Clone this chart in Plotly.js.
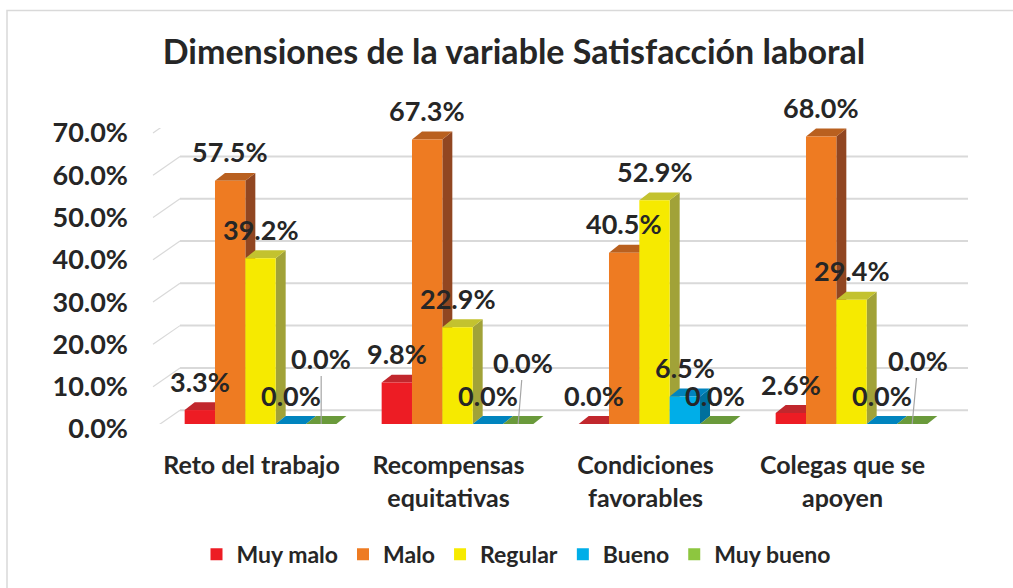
<!DOCTYPE html>
<html>
<head>
<meta charset="utf-8">
<script src="https://cdn.plot.ly/plotly-3.0.1.min.js"></script>
<style>
  html, body { margin: 0; padding: 0; background: #ffffff; }
  #chart { width: 1013px; height: 588px; }
</style>
</head>
<body>
<div id="chart"></div>
<script>
// ---------- DATA ----------
const categories = ["Reto del trabajo", "Recompensas<br>equitativas", "Condiciones<br>favorables", "Colegas que se<br>apoyen"];
const seriesNames = ["Muy malo", "Malo", "Regular", "Bueno", "Muy bueno"];
const muyMalo  = [3.3, 9.8, 0.0, 2.6];
const malo     = [57.5, 67.3, 40.5, 68.0];
const regular  = [39.2, 22.9, 52.9, 29.4];
const bueno    = [0.0, 0.0, 6.5, 0.0];
const muyBueno = [0.0, 0.0, 0.0, 0.0];
const yTicks   = [0, 10, 20, 30, 40, 50, 60, 70];

// ---------- STYLE ----------
const seriesValues = [muyMalo, malo, regular, bueno, muyBueno];
const frontColors = ["#ED1C24", "#EE7B22", "#F6EA00", "#00AEE8", "#8DC63F"];
const topColors   = ["#C1272D", "#B9601F", "#C3C22F", "#0084BE", "#6A9A3B"];
const sideColors  = ["#A81D22", "#914621", "#A1A238", "#00709C", "#5B8833"];
const FONT = 'Lato, "Open Sans", sans-serif';
const TXT = "#262626";
const GRID = "#d9d9d9";

// plot-area geometry (pixels)
const W = 1013, H = 588;
const L = 162, R = 950, T = 128, B = 428;
const X_RANGE = [-0.5, categories.length - 0.5];
const Y_RANGE = [0, 70];
const BARGAP = 0.23;
const barW = (1 - BARGAP) / seriesNames.length;
const xPerPx = (X_RANGE[1] - X_RANGE[0]) / (R - L);
const yPerPx = (Y_RANGE[1] - Y_RANGE[0]) / (B - T);
const pxX = px => (px - L) / (R - L);          // pixel -> paper x
const pxY = py => (B - py) / (B - T);          // pixel -> paper y

// 3D depth of the bars
const DX = 10 * xPerPx, DY = 8 * yPerPx;
// back-wall offset of the gridlines
const WALL_DX_PX = 18, WALL_DY = 14 * yPerPx, FRONT_DY = 5 * yPerPx;

// ---------- TRACES ----------
const xIdx = categories.map((_, i) => i);
const traces = seriesNames.map((name, j) => ({
  type: "bar",
  name: name,
  x: xIdx,
  y: seriesValues[j],
  marker: { color: frontColors[j], line: { width: 0 } },
  hoverinfo: "skip"
}));

// ---------- SHAPES ----------
const shapes = [];
// chart border
shapes.push({ type: "rect", xref: "paper", yref: "paper", layer: "below",
  x0: pxX(7), y0: pxY(9), x1: pxX(1200), y1: pxY(800),
  line: { color: GRID, width: 1.5 } });
// back-wall gridlines + slanted side-wall lines
yTicks.forEach(v => {
  shapes.push({ type: "line", xref: "paper", yref: "y", layer: "below",
    x0: pxX(L + WALL_DX_PX), x1: pxX(968), y0: v + WALL_DY, y1: v + WALL_DY,
    line: { color: GRID, width: 2 } });
  shapes.push({ type: "line", xref: "paper", yref: "y", layer: "below",
    x0: pxX(153), x1: pxX(L + WALL_DX_PX), y0: v - FRONT_DY, y1: v + WALL_DY,
    line: { color: GRID, width: 1.2 } });
});
// 3D side and top faces
seriesNames.forEach((name, j) => {
  seriesValues[j].forEach((v, i) => {
    const xc = i + (j - (seriesNames.length - 1) / 2) * barW;
    const x0 = xc - barW / 2, x1 = xc + barW / 2;
    if (v > 0) {
      shapes.push({ type: "path", xref: "x", yref: "y", layer: "below",
        path: `M${x1},0 L${x1},${v} L${x1 + DX},${v + DY} L${x1 + DX},${DY} Z`,
        fillcolor: sideColors[j], line: { width: 0 } });
    }
    shapes.push({ type: "path", xref: "x", yref: "y", layer: "below",
      path: `M${x0},${v} L${x1},${v} L${x1 + DX},${v + DY} L${x0 + DX},${v + DY} Z`,
      fillcolor: topColors[j], line: { width: 0 } });
  });
});

// ---------- DATA LABELS ----------
// labels moved by hand in the original (with leader lines): [series, category] -> pixel offset
const movedLabels = { "4-0": [0, -66], "4-1": [5, -62], "4-3": [6, -64] };
const annotations = [];
seriesNames.forEach((name, j) => {
  seriesValues[j].forEach((v, i) => {
    const xc = i + (j - (seriesNames.length - 1) / 2) * barW;
    const txt = v.toFixed(1) + "%";
    const mv = movedLabels[j + "-" + i];
    const base = { x: xc, y: v, xref: "x", yref: "y", text: txt,
      font: { family: FONT, size: 27, color: TXT, weight: 700 } };
    if (mv) {
      annotations.push(Object.assign(base, { showarrow: true, arrowhead: 0,
        arrowcolor: "#a6a6a6", arrowwidth: 1.2, ax: mv[0], ay: mv[1], standoff: 0 }));
    } else {
      annotations.push(Object.assign(base, { showarrow: false, yanchor: "middle", yshift: 29 }));
    }
  });
});

// ---------- LAYOUT ----------
const layout = {
  width: W, height: H,
  margin: { l: L, r: W - R, t: T, b: H - B, pad: 0 },
  paper_bgcolor: "#ffffff",
  plot_bgcolor: "rgba(0,0,0,0)",
  title: {
    text: "Dimensiones de la variable Satisfacción laboral",
    font: { family: FONT, size: 34, color: TXT, weight: 700 },
    x: 514 / W, xanchor: "center", xref: "container",
    y: 1 - 52 / H, yanchor: "middle", yref: "container"
  },
  barmode: "group",
  bargap: BARGAP,
  bargroupgap: 0,
  showlegend: true,
  legend: {
    orientation: "h", x: pxX(516), xanchor: "center", y: pxY(560), yanchor: "middle",
    font: { family: FONT, size: 23, color: TXT, weight: 700 },
    itemwidth: 30, traceorder: "normal", bgcolor: "rgba(0,0,0,0)"
  },
  xaxis: {
    range: X_RANGE, tickmode: "array", tickvals: xIdx, ticktext: categories,
    showgrid: false, zeroline: false, showline: false, ticks: "",
    tickfont: { family: FONT, size: 25, color: TXT, weight: 700 },
    ticklabelstandoff: 24, ticklabelshift: -9, fixedrange: true
  },
  yaxis: {
    range: Y_RANGE, tickmode: "array", tickvals: yTicks,
    ticktext: yTicks.map(v => v.toFixed(1) + "%"),
    showgrid: false, zeroline: false, showline: false, ticks: "",
    tickfont: { family: FONT, size: 27, color: TXT, weight: 700 },
    ticklabelstandoff: 33, ticklabelshift: 5, fixedrange: true
  },
  shapes: shapes,
  annotations: annotations
};

Plotly.newPlot("chart", traces, layout, { displayModeBar: false, staticPlot: true });
</script>
</body>
</html>
